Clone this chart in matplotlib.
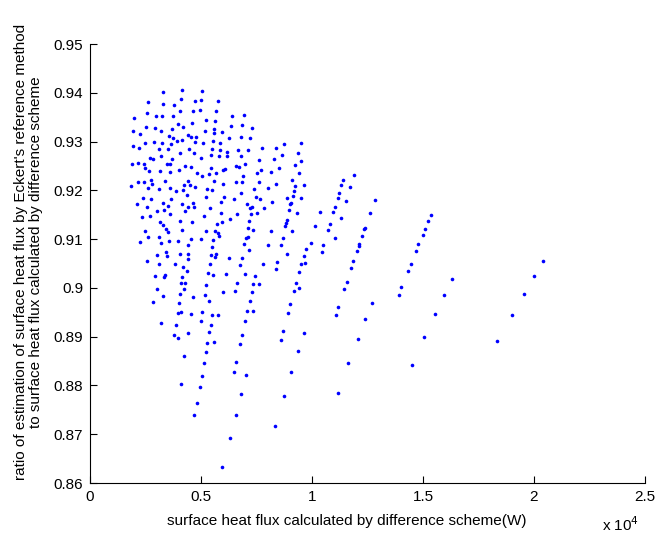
import matplotlib
matplotlib.use("Agg")
import matplotlib.pyplot as plt

plt.rcParams['font.family'] = ['Liberation Sans', 'DejaVu Sans']

# surface heat flux by difference scheme (W)
heat_flux = [
    4131, 3302, 2599, 3275, 4086, 3784, 4054, 2568, 2959, 3230, 3725, 1982, 2523, 2928, 3185, 3694,
    3977, 4189, 1950, 2252, 3545, 3752, 4428, 2477, 2869, 3257, 3635, 3905, 4144, 1923, 2221, 3122,
    3500, 4446, 4054, 3212, 2703, 2838, 3694, 3455, 3604, 1892, 2176, 2432, 2464, 2671, 3153, 3590,
    3996, 4279, 2761, 3378, 4428, 1847, 2149, 2432, 2806, 2613, 3108, 3590, 3887, 4176, 4505, 4356,
    2387, 2748, 3649, 2104, 2554, 3302, 3514, 4144, 4428, 3005, 3333, 3604, 2329, 2703, 4266, 3153,
    3275, 4041, 2491, 3410, 3514, 4158, 2626, 3095, 2266, 3198, 3559, 3950, 4428, 3423, 3018, 3482,
    4054, 4428, 4428, 2554, 3108, 3829, 4203, 4356, 2941, 3320, 3392, 4144, 4113, 4293, 3018, 4234,
    3302, 4054, 2851, 3996, 3950, 4113, 3185, 3874, 4401, 3797, 3964,
    5032, 4716, 5000, 5752, 4653, 4941, 5689, 6410, 6937, 5225, 4608, 5631, 6351, 6847, 5167, 5586,
    5599, 5960, 4550, 4788, 4743, 5090, 5527, 5869, 6261, 6788, 5842, 5482, 4698, 5014, 5437, 5811,
    6171, 6667, 7117, 6158, 6802, 6996, 4563, 4806, 5450, 6068, 5662, 6563, 6712, 5032, 5374, 5586,
    6005, 4234, 4730, 5284, 5482, 6005, 6590, 6847, 6788, 5239, 6023, 6473, 4685, 5392, 5887, 7059,
    5135, 5914, 6320, 7221, 4653, 6635, 5707, 5932, 4608, 5239, 5617, 5766, 5824, 7131, 4563, 4987,
    5554, 7014, 7131, 5509, 6950, 7162, 5450, 5662, 5617, 6248, 6833, 5392, 5315, 5527, 6126, 6757,
    6982, 5225, 6622, 6545, 5977, 4640, 5180, 5347, 7194, 4550, 5059, 5509, 5779, 7086, 4987, 5437,
    6969, 5374, 6847, 5284, 5572, 6757, 4248, 5225, 5122, 6577, 6486, 7027, 5032, 4099, 4941, 6815,
    4806, 4698, 6577, 6293, 5960,
    7297, 7207, 7734, 8378, 8752, 9491, 9369, 8649, 8275, 7626, 9518, 9234, 8514, 7716, 7509, 8153,
    9401, 6906, 7599, 8365, 9086, 7374, 8005, 9248, 9203, 7464, 7658, 8888, 9131, 9491, 8185, 7284,
    7824, 9068, 9023, 8977, 7252, 7523, 9311, 7162, 8874, 8829, 8797, 7356, 8153, 9113, 8694, 8005,
    8604, 9717, 7806, 8437, 8365, 8874, 9626, 9518, 9698, 9414, 7446, 7356, 7599, 9293, 9401, 9189,
    7284, 9023, 8919, 7342, 8707, 8590, 9626, 9369, 9068, 8725, 8320,
    9640, 11892, 11383, 11320, 11725, 11216, 11158, 11532, 12838, 11022, 10946, 10347, 12613, 11306,
    10797, 10149, 10721, 12374, 12329, 12252, 11022, 9955, 10509, 12131, 12104, 12027, 10437, 11847,
    11757, 11563, 11441, 12689, 11185, 11068, 12387, 12059, 11635, 11158,
    15347, 15239, 15090, 14987, 14789, 14685, 14446, 14338, 14023, 13906,
    16293, 15932, 15541, 15059, 14491,
    20392, 20000, 19536, 19009, 18347,
]

# ratio: Eckert's reference method / difference scheme
ratio = [
    0.9406, 0.9401, 0.9382, 0.9378, 0.9387, 0.9374, 0.9363, 0.9358, 0.9353, 0.9353, 0.9352, 0.9348,
    0.9330, 0.9328, 0.9322, 0.9325, 0.9335, 0.9329, 0.9322, 0.9316, 0.9311, 0.9307, 0.9313, 0.9297,
    0.9299, 0.9297, 0.9294, 0.9301, 0.9304, 0.9291, 0.9287, 0.9284, 0.9285, 0.9285, 0.9277, 0.9270,
    0.9267, 0.9264, 0.9264, 0.9255, 0.9255, 0.9253, 0.9256, 0.9255, 0.9246, 0.9239, 0.9240, 0.9238,
    0.9242, 0.9250, 0.9222, 0.9219, 0.9220, 0.9209, 0.9218, 0.9218, 0.9212, 0.9205, 0.9203, 0.9205,
    0.9199, 0.9201, 0.9210, 0.9190, 0.9184, 0.9182, 0.9182, 0.9171, 0.9165, 0.9174, 0.9167, 0.9171,
    0.9166, 0.9158, 0.9159, 0.9151, 0.9145, 0.9147, 0.9158, 0.9136, 0.9129, 0.9138, 0.9117, 0.9121,
    0.9115, 0.9118, 0.9105, 0.9104, 0.9094, 0.9092, 0.9097, 0.9097, 0.9087, 0.9074, 0.9067, 0.9065,
    0.9069, 0.9069, 0.9059, 0.9055, 0.9050, 0.9048, 0.9042, 0.9035, 0.9024, 0.9022, 0.9027, 0.9022,
    0.9009, 0.9009, 0.8997, 0.8997, 0.8983, 0.8988, 0.8971, 0.8970, 0.8949, 0.8951, 0.8929, 0.8924,
    0.8907, 0.8903, 0.8897,
    0.9404, 0.9383, 0.9385, 0.9383, 0.9362, 0.9365, 0.9362, 0.9352, 0.9354, 0.9345, 0.9339, 0.9342,
    0.9331, 0.9333, 0.9322, 0.9326, 0.9318, 0.9320, 0.9309, 0.9309, 0.9299, 0.9298, 0.9302, 0.9297,
    0.9307, 0.9309, 0.9283, 0.9285, 0.9276, 0.9266, 0.9272, 0.9270, 0.9279, 0.9283, 0.9282, 0.9270,
    0.9270, 0.9255, 0.9248, 0.9236, 0.9245, 0.9243, 0.9236, 0.9250, 0.9247, 0.9229, 0.9234, 0.9219,
    0.9242, 0.9210, 0.9207, 0.9202, 0.9201, 0.9212, 0.9218, 0.9217, 0.9194, 0.9187, 0.9186, 0.9183,
    0.9166, 0.9163, 0.9176, 0.9172, 0.9148, 0.9153, 0.9141, 0.9163, 0.9175, 0.9152, 0.9131, 0.9136,
    0.9135, 0.9117, 0.9116, 0.9112, 0.9106, 0.9123, 0.9101, 0.9101, 0.9098, 0.9102, 0.9104, 0.9084,
    0.9089, 0.9078, 0.9067, 0.9070, 0.9064, 0.9061, 0.9061, 0.9048, 0.9031, 0.9027, 0.9029, 0.9046,
    0.9029, 0.9005, 0.9011, 0.8994, 0.8991, 0.8981, 0.8986, 0.8973, 0.8973, 0.8947, 0.8951, 0.8944,
    0.8945, 0.8952, 0.8932, 0.8923, 0.8933, 0.8910, 0.8904, 0.8887, 0.8889, 0.8885, 0.8860, 0.8868,
    0.8846, 0.8848, 0.8827, 0.8821, 0.8820, 0.8803, 0.8797, 0.8783, 0.8763, 0.8740, 0.8740, 0.8692,
    0.8633,
    0.9328, 0.9307, 0.9286, 0.9286, 0.9294, 0.9297, 0.9276, 0.9272, 0.9264, 0.9262, 0.9260, 0.9251,
    0.9246, 0.9242, 0.9236, 0.9237, 0.9236, 0.9229, 0.9217, 0.9214, 0.9221, 0.9202, 0.9204, 0.9208,
    0.9199, 0.9186, 0.9182, 0.9184, 0.9188, 0.9184, 0.9176, 0.9166, 0.9164, 0.9175, 0.9171, 0.9160,
    0.9152, 0.9153, 0.9153, 0.9137, 0.9140, 0.9133, 0.9127, 0.9119, 0.9117, 0.9116, 0.9102, 0.9087,
    0.9088, 0.9080, 0.9050, 0.9053, 0.9039, 0.9069, 0.9065, 0.9048, 0.9051, 0.9033, 0.9025, 0.9007,
    0.9007, 0.9011, 0.9000, 0.8994, 0.8991, 0.8967, 0.8949, 0.8953, 0.8912, 0.8893, 0.8908, 0.8871,
    0.8828, 0.8778, 0.8717,
    0.9211, 0.9231, 0.9221, 0.9211, 0.9206, 0.9195, 0.9185, 0.9178, 0.9181, 0.9166, 0.9155, 0.9156,
    0.9154, 0.9143, 0.9131, 0.9126, 0.9119, 0.9123, 0.9120, 0.9106, 0.9102, 0.9093, 0.9087, 0.9089,
    0.9085, 0.9076, 0.9074, 0.9055, 0.9040, 0.9012, 0.8997, 0.8970, 0.8961, 0.8944, 0.8936, 0.8895,
    0.8845, 0.8785,
    0.9149, 0.9137, 0.9121, 0.9108, 0.9089, 0.9076, 0.9050, 0.9035, 0.9002, 0.8986,
    0.9018, 0.8985, 0.8946, 0.8899, 0.8842,
    0.9055, 0.9024, 0.8988, 0.8944, 0.8891,
]

x_ticks = [0, 0.5e4, 1.0e4, 1.5e4, 2.0e4, 2.5e4]
x_tick_labels = ['0', '0.5', '1', '1.5', '2', '2.5']
y_ticks = [0.86, 0.87, 0.88, 0.89, 0.90, 0.91, 0.92, 0.93, 0.94, 0.95]
y_tick_labels = ['0.86', '0.87', '0.88', '0.89', '0.9', '0.91', '0.92', '0.93', '0.94', '0.95']

FS = 11

fig = plt.figure(figsize=(6.57, 5.35), dpi=100)
ax = fig.add_axes([90/657, 1-483/535, 555/657, 439/535])
ax.plot(heat_flux, ratio, 'o', color='#0000ff', ms=2.6, mec='none', linestyle='none')
ax.set_xlim(0, 2.5e4)
ax.set_ylim(0.86, 0.95)
ax.set_xticks(x_ticks)
ax.set_xticklabels(x_tick_labels)
ax.set_yticks(y_ticks)
ax.set_yticklabels(y_tick_labels)
ax.spines['top'].set_visible(False)
ax.spines['right'].set_visible(False)
ax.tick_params(direction='in', length=5, width=0.8, labelsize=FS, pad=5)
ax.set_xlabel('surface heat flux calculated by difference scheme(W)', fontsize=FS)
ax.xaxis.set_label_coords((347-90)/555, -(514-483)/439)
ax.set_ylabel("ratio of estimation of surface heat flux by Eckert's reference method\n"
              "to surface heat flux calculated by difference scheme", fontsize=FS,
              linespacing=1.05)
ax.yaxis.set_label_coords((43-90)/555, (483-252)/439)
fig.text(602/657, 1-531/535, r'x 10$^{4}$', ha='left', va='baseline', fontsize=FS)
fig.savefig("out.png", dpi=100)
